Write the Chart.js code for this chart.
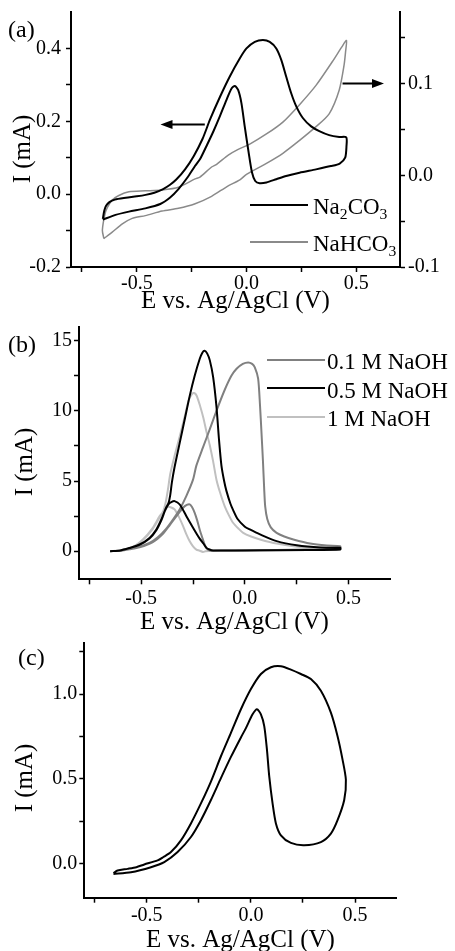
<!DOCTYPE html>
<html>
<head>
<meta charset="utf-8">
<script src="https://cdn.jsdelivr.net/npm/chart.js@4.4.0/dist/chart.umd.min.js"></script>
<style>
  html, body { margin: 0; padding: 0; background: #fff; }
  #page { position: relative; width: 455px; height: 951px; overflow: hidden;
          font-family: "Liberation Serif", "Times New Roman", serif; color: #000; }
  canvas { position: absolute; left: 0; }
  .lbl { position: absolute; white-space: nowrap; line-height: 1; }
  .panel { font-size: 24px; line-height: 24px; }
  .leg { font-size: 23px; line-height: 23px; }
  .leg sub { font-size: 0.68em; vertical-align: -0.32em; line-height: 0; }
  .legline { position: absolute; height: 2px; width: 58px; }
  .ytitle { position: absolute; font-size: 25px; line-height: 25px; white-space: nowrap;
            transform: translate(-50%, -50%) rotate(-90deg); }
</style>
</head>
<body>
<div id="page">
  <canvas id="chartA" width="455" height="318" style="top:0px"></canvas>
  <canvas id="chartB" width="455" height="325" style="top:318px"></canvas>
  <canvas id="chartC" width="455" height="320" style="top:636px"></canvas>

  <div class="lbl panel" style="left:8px;top:17px">(a)</div>
  <div class="lbl panel" style="left:8px;top:332px">(b)</div>
  <div class="lbl panel" style="left:18px;top:645px">(c)</div>

  <div class="ytitle" style="left:21px;top:148.5px">I (mA)</div>
  <div class="ytitle" style="left:23px;top:461.7px">I (mA)</div>
  <div class="ytitle" style="left:22.5px;top:777.5px">I (mA)</div>

  <div class="legline" style="left:250px;top:204px;background:#000"></div>
  <div class="lbl leg" style="left:313px;top:195px">Na<sub>2</sub>CO<sub>3</sub></div>
  <div class="legline" style="left:250px;top:240.7px;background:#8a8a8a"></div>
  <div class="lbl leg" style="left:313px;top:232px">NaHCO<sub>3</sub></div>

  <div class="legline" style="left:267px;top:359px;background:#808080"></div>
  <div class="lbl leg" style="left:327px;top:350.2px">0.1 M NaOH</div>
  <div class="legline" style="left:267px;top:387.3px;background:#000"></div>
  <div class="lbl leg" style="left:327px;top:378.5px">0.5 M NaOH</div>
  <div class="legline" style="left:267px;top:415.7px;background:#c0c0c0"></div>
  <div class="lbl leg" style="left:327px;top:406.8px">1 M NaOH</div>
</div>
<script>
// tick values
const xMajor = [-0.5, 0, 0.5];
const xMinor = [-0.75, -0.25, 0.25];
const aLeftMajor = [-0.2, 0, 0.2, 0.4];
const aLeftMinor = [-0.1, 0.1, 0.3];
const aRightMajor = [-0.1, 0, 0.1];
const aRightMinor = [-0.05, 0.05, 0.15];
const bMajor = [0, 5, 10, 15];
const bMinor = [2.5, 7.5, 12.5];
const cMajor = [0, 0.5, 1.0];
const cMinor = [0.25, 0.75, 1.25];

// (a) Na2CO3, left axis (mA)
const na2co3E = [-0.655,-0.648,-0.640,-0.625,-0.600,-0.550,-0.500,-0.460,-0.420,-0.380,-0.350,-0.320,-0.280,-0.240,-0.200,-0.166,-0.120,-0.076,-0.030,0.000,0.038,0.075,0.106,0.136,0.159,0.181,0.204,0.227,0.257,0.295,0.332,0.377,0.423,0.455,
  0.456,0.450,0.425,0.385,0.317,0.242,0.181,0.136,0.091,0.060,0.040,0.025,0.010,-0.008,-0.023,-0.038,-0.053,-0.068,-0.091,-0.121,-0.151,-0.180,-0.210,-0.234,-0.270,-0.310,-0.348,-0.393,-0.461,-0.536,-0.597,-0.655];
const na2co3I = [-0.068,-0.045,-0.032,-0.022,-0.015,-0.010,-0.006,-0.002,0.004,0.014,0.025,0.040,0.068,0.105,0.152,0.205,0.268,0.323,0.373,0.400,0.418,0.423,0.418,0.400,0.368,0.323,0.277,0.241,0.209,0.186,0.173,0.162,0.157,0.156,
  0.132,0.100,0.084,0.077,0.068,0.059,0.050,0.041,0.032,0.030,0.036,0.060,0.114,0.186,0.250,0.286,0.297,0.290,0.259,0.214,0.172,0.135,0.098,0.078,0.045,0.014,-0.009,-0.027,-0.039,-0.048,-0.057,-0.070];

// (a) NaHCO3, right axis (mA)
const nahco3E = [-0.650,-0.657,-0.645,-0.634,-0.612,-0.582,-0.536,-0.461,-0.385,-0.310,-0.234,-0.212,-0.159,-0.136,-0.083,-0.040,0.015,0.091,0.166,0.242,0.317,0.392,0.435,0.456,
  0.452,0.445,0.423,0.377,0.317,0.242,0.166,0.091,0.000,-0.030,-0.087,-0.159,-0.234,-0.310,-0.385,-0.461,-0.521,-0.566,-0.612,-0.650];
const nahco3I = [-0.069,-0.060,-0.042,-0.035,-0.027,-0.022,-0.018,-0.017,-0.016,-0.013,-0.004,-0.002,0.009,0.012,0.022,0.028,0.034,0.045,0.058,0.077,0.098,0.124,0.140,0.147,
  0.135,0.120,0.093,0.067,0.053,0.038,0.024,0.013,0.001,-0.005,-0.012,-0.023,-0.031,-0.036,-0.039,-0.044,-0.047,-0.053,-0.062,-0.069];

// arrows in (a): potential range and current level on the axis they point at
const arrowLeftE = [-0.19, -0.392];
const arrowLeftI = 0.191;
const arrowRightE = [0.438, 0.627];
const arrowRightI = 0.10;

// (b) NaOH series
const naoh01E = [-0.650,-0.600,-0.556,-0.508,-0.460,-0.420,-0.380,-0.345,-0.314,-0.282,-0.250,-0.234,-0.202,-0.169,-0.137,-0.100,-0.065,-0.040,-0.010,0.016,0.035,0.048,0.064,0.073,0.080,0.087,0.093,0.098,0.108,0.125,0.153,0.190,0.234,0.315,0.395,0.460,
  0.460,0.400,0.300,0.150,0.000,-0.100,-0.150,-0.169,-0.185,-0.194,-0.206,-0.218,-0.230,-0.242,-0.255,-0.266,-0.280,-0.298,-0.330,-0.363,-0.395,-0.444,-0.508,-0.556,-0.600,-0.650];
const naoh01I = [0.00,0.05,0.17,0.33,0.60,1.00,1.60,2.30,3.00,3.95,5.10,6.10,7.40,8.70,10.00,11.40,12.50,13.00,13.35,13.45,13.35,13.10,12.30,10.40,8.50,6.50,4.50,3.20,2.30,1.70,1.31,1.05,0.84,0.55,0.41,0.36,
  0.25,0.16,0.12,0.09,0.07,0.05,0.04,0.05,0.20,0.48,1.00,1.55,2.20,2.74,3.15,3.34,3.30,3.10,2.50,1.85,1.25,0.65,0.28,0.14,0.04,0.00];

const naoh05E = [-0.650,-0.600,-0.556,-0.508,-0.460,-0.427,-0.403,-0.380,-0.368,-0.360,-0.352,-0.339,-0.314,-0.290,-0.266,-0.242,-0.218,-0.205,-0.194,-0.182,-0.169,-0.153,-0.137,-0.125,-0.113,-0.100,-0.089,-0.070,-0.057,-0.035,0.000,0.024,0.073,0.153,0.250,0.363,0.460,
  0.460,0.300,0.000,-0.120,-0.153,-0.170,-0.185,-0.200,-0.218,-0.235,-0.250,-0.282,-0.314,-0.339,-0.355,-0.368,-0.385,-0.403,-0.427,-0.460,-0.508,-0.556,-0.600,-0.650];
const naoh05I = [0.00,0.06,0.24,0.48,0.95,1.55,2.26,3.10,3.45,4.00,4.90,6.00,7.74,9.40,11.07,12.50,13.70,14.15,14.29,14.10,13.60,12.40,10.30,8.00,6.10,5.00,4.30,3.40,2.95,2.30,1.75,1.55,1.20,0.72,0.42,0.26,0.24,
  0.12,0.08,0.06,0.05,0.05,0.12,0.24,0.55,0.90,1.30,1.67,2.50,3.33,3.57,3.50,3.35,2.90,2.20,1.50,0.90,0.45,0.22,0.06,0.00];

const naoh1E = [-0.650,-0.600,-0.540,-0.492,-0.444,-0.411,-0.395,-0.383,-0.371,-0.360,-0.339,-0.314,-0.290,-0.270,-0.255,-0.245,-0.233,-0.215,-0.200,-0.185,-0.170,-0.153,-0.137,-0.120,-0.097,-0.075,-0.057,-0.030,-0.008,0.030,0.073,0.153,0.266,0.460,
  0.460,0.300,0.000,-0.150,-0.190,-0.202,-0.220,-0.234,-0.250,-0.266,-0.282,-0.298,-0.320,-0.339,-0.355,-0.371,-0.385,-0.398,-0.415,-0.444,-0.492,-0.540,-0.600,-0.650];
const naoh1I = [0.00,0.08,0.31,0.84,1.67,2.50,2.80,3.40,4.40,5.50,6.80,8.20,9.60,10.80,11.20,11.27,11.10,10.30,9.50,8.50,7.60,6.40,5.10,4.20,3.20,2.50,2.03,1.60,1.31,1.05,0.84,0.55,0.31,0.24,
  0.12,0.08,0.05,0.03,0.00,-0.05,0.05,0.12,0.35,0.71,1.20,1.79,2.50,2.98,3.12,3.17,3.05,2.75,2.30,1.60,0.80,0.30,0.07,0.00];

// (c) single CV
const cvcE = [-0.660,-0.640,-0.592,-0.550,-0.512,-0.448,-0.420,-0.384,-0.336,-0.288,-0.240,-0.192,-0.144,-0.096,-0.048,0.000,0.048,0.096,0.144,0.192,0.240,0.288,0.336,0.384,0.416,0.440,0.456,
  0.448,0.416,0.384,0.336,0.256,0.192,0.144,0.120,0.104,0.088,0.077,0.064,0.048,0.029,0.008,-0.024,-0.048,-0.096,-0.144,-0.192,-0.240,-0.288,-0.352,-0.416,-0.480,-0.576,-0.660];
const cvcI = [-0.055,-0.040,-0.030,-0.020,-0.004,0.020,0.040,0.069,0.138,0.238,0.356,0.485,0.634,0.772,0.911,1.030,1.119,1.159,1.165,1.145,1.119,1.089,1.020,0.891,0.752,0.614,0.495,
  0.376,0.257,0.178,0.128,0.109,0.123,0.168,0.238,0.356,0.515,0.673,0.812,0.881,0.911,0.881,0.800,0.745,0.630,0.505,0.376,0.257,0.158,0.069,0.010,-0.020,-0.050,-0.060];

Chart.defaults.font.family = '"Liberation Serif", "Times New Roman", serif';
Chart.defaults.font.size = 20;
Chart.defaults.color = '#000';

const pts = (e, i) => e.map((v, k) => ({ x: v, y: i[k] }));

function curve(e, i, color, width, axisId) {
  return {
    data: pts(e, i), yAxisID: axisId || 'y',
    showLine: true, borderColor: color, borderWidth: width,
    pointRadius: 0, tension: 0.25, fill: false
  };
}

function axis(o) {
  return {
    type: 'linear', position: o.position, min: o.min, max: o.max,
    afterBuildTicks: s => {
      s.ticks = o.major.concat(o.minor).sort((a, b) => a - b).map(v => ({ value: v }));
    },
    afterFit: s => {
      if (s.isHorizontal()) s.height = o.size; else s.width = o.size;
      s.paddingTop = 0; s.paddingBottom = 0; s.paddingLeft = 0; s.paddingRight = 0;
    },
    ticks: {
      autoSkip: false, maxRotation: 0, padding: o.pad, color: '#000',
      font: { size: 20 },
      callback: v => o.major.some(m => Math.abs(m - v) < 1e-9) ? v.toFixed(o.digits) : ''
    },
    grid: { display: true, drawOnChartArea: false, drawTicks: true, tickLength: 5, tickWidth: 1.5, tickColor: '#000' },
    border: { display: true, color: '#000', width: 2 },
    title: o.title
      ? { display: true, text: o.title, font: { size: 25 }, color: '#000', padding: { top: 0, bottom: o.titlePad } }
      : { display: false }
  };
}

const arrowPlugin = {
  id: 'arrows',
  afterDatasetsDraw(chart) {
    const { ctx, scales } = chart;
    const list = [
      { e: arrowLeftE, i: arrowLeftI, s: scales.y },
      { e: arrowRightE, i: arrowRightI, s: scales.y2 }
    ];
    ctx.save();
    ctx.strokeStyle = '#000';
    ctx.fillStyle = '#000';
    ctx.lineWidth = 2;
    list.forEach(a => {
      const x0 = scales.x.getPixelForValue(a.e[0]);
      const x1 = scales.x.getPixelForValue(a.e[1]);
      const y = a.s.getPixelForValue(a.i);
      const dir = Math.sign(x1 - x0);
      ctx.beginPath();
      ctx.moveTo(x0, y);
      ctx.lineTo(x1 - dir * 9, y);
      ctx.stroke();
      ctx.beginPath();
      ctx.moveTo(x1, y);
      ctx.lineTo(x1 - dir * 12, y - 4.5);
      ctx.lineTo(x1 - dir * 12, y + 4.5);
      ctx.closePath();
      ctx.fill();
    });
    ctx.restore();
  }
};

const baseOpts = {
  responsive: false, animation: false, devicePixelRatio: 1,
  plugins: { legend: { display: false }, tooltip: { enabled: false } },
  elements: { point: { radius: 0 } }
};

// (a)
new Chart(document.getElementById('chartA'), {
  type: 'scatter',
  data: {
    datasets: [
      curve(na2co3E, na2co3I, '#000', 2, 'y'),
      curve(nahco3E, nahco3I, '#8a8a8a', 1.5, 'y2')
    ]
  },
  options: Object.assign({}, baseOpts, {
    layout: { padding: { top: 12, left: 0, right: 0, bottom: 0 } },
    scales: {
      x: axis({ position: 'bottom', min: -0.8, max: 0.7, major: xMajor, minor: xMinor, size: 51, pad: 0, digits: 1,
                title: 'E vs. Ag/AgCl (V)', titlePad: 2 }),
      y: axis({ position: 'left', min: -0.2, max: 0.5, major: aLeftMajor, minor: aLeftMinor, size: 71, pad: 5, digits: 1 }),
      y2: axis({ position: 'right', min: -0.1, max: 0.178, major: aRightMajor, minor: aRightMinor, size: 55, pad: 3, digits: 1 })
    }
  }),
  plugins: [arrowPlugin]
});

// (b)
new Chart(document.getElementById('chartB'), {
  type: 'scatter',
  data: {
    datasets: [
      curve(naoh05E, naoh05I, '#000', 2),
      curve(naoh01E, naoh01I, '#808080', 2),
      curve(naoh1E, naoh1I, '#c0c0c0', 2)
    ]
  },
  options: Object.assign({}, baseOpts, {
    layout: { padding: { top: 8.7, left: 0, right: 65, bottom: 0 } },
    scales: {
      x: axis({ position: 'bottom', min: -0.8, max: 0.7, major: xMajor, minor: xMinor, size: 63.7, pad: 2.5, digits: 1,
                title: 'E vs. Ag/AgCl (V)', titlePad: 6 }),
      y: axis({ position: 'left', min: -2, max: 16, major: bMajor, minor: bMinor, size: 79, pad: 2, digits: 0 })
    }
  })
});

// (c)
new Chart(document.getElementById('chartC'), {
  type: 'scatter',
  data: { datasets: [curve(cvcE, cvcI, '#000', 2)] },
  options: Object.assign({}, baseOpts, {
    layout: { padding: { top: 7.3, left: 0, right: 58.3, bottom: 0 } },
    scales: {
      x: axis({ position: 'bottom', min: -0.8, max: 0.7, major: xMajor, minor: xMinor, size: 58.3, pad: 1.5, digits: 1,
                title: 'E vs. Ag/AgCl (V)', titlePad: 1 }),
      y: axis({ position: 'left', min: -0.2, max: 1.3, major: cMajor, minor: cMinor, size: 84.3, pad: 2, digits: 1 })
    }
  })
});
</script>
</body>
</html>
